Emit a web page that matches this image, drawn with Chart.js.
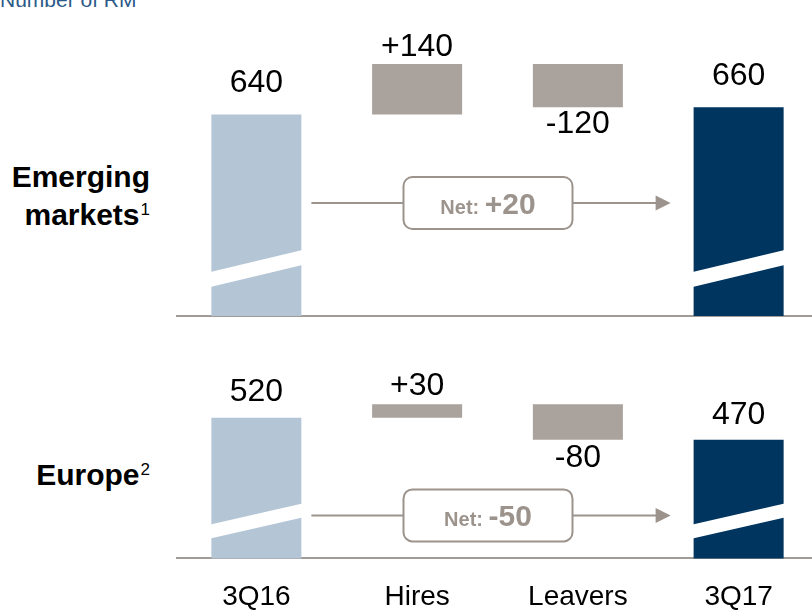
<!DOCTYPE html>
<html>
<head>
<meta charset="utf-8">
<script src="https://cdn.jsdelivr.net/npm/chart.js@4.4.1/dist/chart.umd.min.js"></script>
<style>
  html, body { margin: 0; width: 812px; height: 612px; overflow: hidden; background: #fff; }
  body { position: relative; font-family: "Liberation Sans", Arial, sans-serif; }
  #title { position: absolute; left: 0; top: -11px; font-size: 21px; line-height: 21px; color: #2c5a88; white-space: nowrap; }
  .panel { position: absolute; left: 176px; width: 643px; }
  #emerging { top: 0; height: 330px; }
  #europe { top: 330px; height: 306px; }
  .rowlabel { position: absolute; right: 662px; text-align: right; font-weight: bold; font-size: 30px; line-height: 38px; color: #000; white-space: nowrap; }
  .rowlabel .sup { position: relative; top: -10px; font-size: 17px; font-weight: normal; margin-left: 1px; }
</style>
</head>
<body>
<div id="title">Number of RM</div>
<div class="rowlabel" style="top:158px">Emerging<br>markets<span class="sup">1</span></div>
<div class="rowlabel" style="top:456px">Europe<span class="sup">2</span></div>
<div class="panel" id="emerging"><canvas id="emergingChart"></canvas></div>
<div class="panel" id="europe"><canvas id="europeChart"></canvas></div>

<script>
// start headcount, hires, leavers, end headcount
const categories     = ['3Q16', 'Hires', 'Leavers', '3Q17'];
const emergingValues = [640, 140, -120, 660];
const europeValues   = [520, 30, -80, 470];

const LIGHT_BLUE = '#b4c5d5';
const DARK_BLUE  = '#003560';
const TAUPE      = '#aaa29c';
const ARROW      = '#9c938c';
const FONT       = '"Liberation Sans", Arial, sans-serif';

function signed(v) {
    return (v > 0 ? '+' : '') + v;
}

function buildData(values) {
    const [start, hires, leavers, end] = values;
    const peak = start + hires;
    return {
        labels: categories,
        datasets: [
            {
                data: [start, null, null, end],
                backgroundColor: [LIGHT_BLUE, 'transparent', 'transparent', DARK_BLUE]
            },
            {
                data: [null, [start, peak], [peak + leavers, peak], null],
                backgroundColor: TAUPE
            }
        ]
    };
}

// value labels, axis-break slashes and the net-change arrow
const waterfallDecor = {
    id: 'waterfallDecor',
    afterDatasetsDraw(chart, args, opts) {
        const ctx = chart.ctx;
        const floor = chart.chartArea.bottom;
        const totals = chart.getDatasetMeta(0).data;
        const changes = chart.getDatasetMeta(1).data;
        const values = opts.values;

        ctx.save();

        ctx.fillStyle = '#fff';
        const [a1, a2, b1, b2] = opts.slash;
        [totals[0], totals[3]].forEach((bar) => {
            const l = bar.x - bar.width / 2 - 1;
            const r = bar.x + bar.width / 2 + 1;
            ctx.beginPath();
            ctx.moveTo(l, floor - a1);
            ctx.lineTo(r, floor - b1);
            ctx.lineTo(r, floor - b2);
            ctx.lineTo(l, floor - a2);
            ctx.closePath();
            ctx.fill();
        });

        ctx.fillStyle = '#000';
        ctx.font = `32px ${FONT}`;
        ctx.textAlign = 'center';
        ctx.textBaseline = 'middle';
        ctx.fillText(String(values[0]), totals[0].x, totals[0].y - opts.totalGap);
        ctx.fillText(String(values[3]), totals[3].x, totals[3].y - opts.totalGap);
        ctx.fillText(signed(values[1]), changes[1].x, changes[1].y - opts.changeGap);
        ctx.fillText(signed(values[2]), changes[2].x, changes[2].base + opts.changeGap);

        // arrow from the start bar to the end bar, with the net box on it
        const y = floor - opts.arrowLift;
        const x1 = totals[0].x + totals[0].width / 2 + 10;
        const x2 = totals[3].x - totals[3].width / 2 - 23;
        ctx.strokeStyle = ARROW;
        ctx.lineWidth = 2;
        ctx.beginPath();
        ctx.moveTo(x1, y);
        ctx.lineTo(x2 - 14, y);
        ctx.stroke();
        ctx.fillStyle = ARROW;
        ctx.beginPath();
        ctx.moveTo(x2, y);
        ctx.lineTo(x2 - 15, y - 7.5);
        ctx.lineTo(x2 - 15, y + 7.5);
        ctx.closePath();
        ctx.fill();

        const cx = (x1 + x2) / 2 - 3;
        const bw = 169, bh = 52;
        ctx.fillStyle = '#fff';
        ctx.beginPath();
        ctx.roundRect(cx - bw / 2, y - bh / 2, bw, bh, 9);
        ctx.fill();
        ctx.stroke();

        const net = values[3] - values[0];
        const head = 'Net: ';
        const num = signed(net);
        ctx.font = `bold 20px ${FONT}`;
        const w1 = ctx.measureText(head).width;
        ctx.font = `bold 30px ${FONT}`;
        const w2 = ctx.measureText(num).width;
        const tx = cx - (w1 + w2) / 2;
        ctx.fillStyle = ARROW;
        ctx.textAlign = 'left';
        ctx.textBaseline = 'alphabetic';
        ctx.font = `bold 20px ${FONT}`;
        ctx.fillText(head, tx, y + 11);
        ctx.font = `bold 30px ${FONT}`;
        ctx.fillText(num, tx + w1, y + 11);

        ctx.restore();
    }
};

function makeChart(canvasId, values, cfg) {
    return new Chart(document.getElementById(canvasId), {
        type: 'bar',
        data: buildData(values),
        plugins: [waterfallDecor],
        options: {
            responsive: true,
            maintainAspectRatio: false,
            animation: false,
            grouped: false,
            categoryPercentage: 1,
            barPercentage: 0.56,
            layout: { padding: { top: 0, left: 0, right: 0, bottom: cfg.padBottom } },
            plugins: {
                legend: { display: false },
                tooltip: { enabled: false },
                waterfallDecor: {
                    values,
                    slash: cfg.slash,
                    totalGap: cfg.totalGap,
                    changeGap: cfg.changeGap,
                    arrowLift: cfg.arrowLift
                }
            },
            scales: {
                x: {
                    grid: { display: false, drawTicks: false },
                    border: { display: true, color: '#a09b97', width: 2 },
                    ticks: {
                        display: cfg.showTicks,
                        color: '#000',
                        padding: 22,
                        font: { family: FONT, size: 28 }
                    }
                },
                y: {
                    display: false,
                    min: cfg.min,
                    max: cfg.max
                }
            }
        }
    });
}

makeChart('emergingChart', emergingValues, {
    min: 80, max: 958, padBottom: 14, showTicks: false,
    slash: [44, 29, 66, 51], totalGap: 31, changeGap: 17, arrowLift: 113
});

makeChart('europeChart', europeValues, {
    min: 202, max: 718, padBottom: 0, showTicks: true,
    slash: [34, 20, 55, 41], totalGap: 25, changeGap: 18, arrowLift: 43
});
</script>
</body>
</html>
